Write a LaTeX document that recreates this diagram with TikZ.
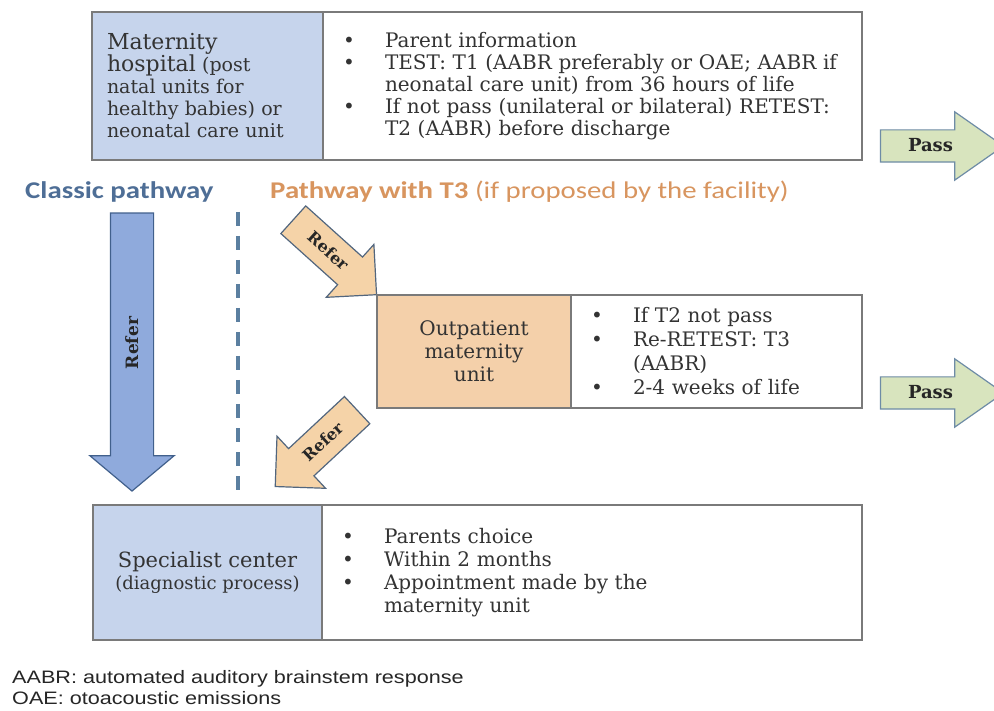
\documentclass[tikz,border=0pt]{standalone}
\usepackage{fontspec}
\setmainfont{DejaVu Serif}
\newfontfamily\headfont{Carlito}
\newfontfamily\notefont{Liberation Sans}
\usetikzlibrary{positioning,shapes.arrows}

\definecolor{sideblue}{HTML}{C6D4EC}
\definecolor{unitorange}{HTML}{F4D0AA}
\definecolor{boxgray}{HTML}{7A7A7A}
\definecolor{txtgray}{HTML}{333333}
\definecolor{passgreen}{HTML}{D8E4BE}
\definecolor{passline}{HTML}{6E8CA6}
\definecolor{referblue}{HTML}{8FAADC}
\definecolor{referblueline}{HTML}{41608C}
\definecolor{referorange}{HTML}{F5D3A8}
\definecolor{referline}{HTML}{52667E}
\definecolor{headblue}{HTML}{4E6E96}
\definecolor{headorange}{HTML}{D8955F}
\definecolor{dashblue}{HTML}{5B7FA0}

\newcommand\bigtxt{\fontsize{22}{22}\selectfont}
\newcommand\smalltxt{\fontsize{19}{22}\selectfont}
\newcommand\bl{\makebox[42pt][l]{\textbullet}}
\newcommand\nb{\hspace*{42pt}}

\tikzset{
  sidebox/.style={draw=boxgray, line width=1.2pt, fill=sideblue, text=txtgray,
    inner xsep=15pt, inner ysep=0pt, outer sep=0pt},
  unitbox/.style={sidebox, fill=unitorange},
  infobox/.style={draw=boxgray, line width=1.2pt, fill=white, text=txtgray,
    inner xsep=20pt, inner ysep=0pt, outer sep=0pt, align=left,
    font=\fontsize{20}{22}\selectfont},
  passarrow/.style={single arrow, draw=passline, line width=1.2pt, fill=passgreen,
    font=\fontsize{18}{18}\selectfont\bfseries, text=black!85,
    text height=12pt, text depth=0pt, inner ysep=9.5pt,
    single arrow head extend=18pt, single arrow tip angle=70, minimum height=123pt},
  referarrow/.style={single arrow, draw=referline, line width=1.2pt, fill=referorange,
    font=\fontsize{16}{16}\selectfont\bfseries, text=black!85,
    text height=11pt, text depth=0pt, inner ysep=12.5pt,
    single arrow head extend=17pt, single arrow tip angle=90, minimum height=112pt},
  bigarrow/.style={single arrow, draw=referblueline, line width=1.2pt, fill=referblue,
    font=\fontsize{17}{17}\selectfont\bfseries, text=black!85,
    text height=12pt, text depth=0pt, inner ysep=15pt,
    single arrow head extend=20.5pt, single arrow tip angle=100, minimum height=278pt},
  heading/.style={anchor=west, xscale=1.2, inner sep=0pt,
    font=\headfont\fontsize{24}{26}\selectfont}
}

\begin{document}
\begin{tikzpicture}[x=1pt,y=-1pt]
\useasboundingbox[fill=white] (0,0) rectangle (994,711);

% maternity hospital
\node[sidebox, minimum width=231pt, minimum height=148pt, text width=201pt, align=left,
  font=\smalltxt] (mathosp) at (207.5,86)
  {\bigtxt Maternity\\ hospital \smalltxt(post\\ natal units for\\ healthy babies) or\\ neonatal care unit};
\node[infobox, right=0pt of mathosp, minimum width=539pt, minimum height=148pt, text width=499pt]
  (mathospinfo)
  {\bl Parent information\\
   \bl TEST: T1 (AABR preferably or OAE; AABR if\\
   \nb neonatal care unit) from 36 hours of life\\
   \bl If not pass (unilateral or bilateral) RETEST:\\
   \nb T2 (AABR) before discharge};
\node[passarrow] (pass1) at (930.5,146) {Pass};

% pathways
\node[heading, text=headblue] (classic) at (25,192) {\bfseries Classic pathway};
\node[heading, text=headorange] (withT3) at (270,192) {\bfseries Pathway with T3 \mdseries(if proposed by the facility)};

\node[bigarrow, rotate=90, shape border rotate=180] (classicref) at (132,343) {Refer};
\coordinate (divtop) at (238,212);
\coordinate (divbot) at (238,490);
\draw[dashblue, line width=4pt, dash pattern=on 14pt off 10pt] (divtop) -- (divbot);

% outpatient unit
\node[referarrow, rotate=-42] (refer1) at (328,251) {Refer};
\node[unitbox, minimum width=194pt, minimum height=113pt, align=center,
  font=\fontsize{20}{23}\selectfont] (outpat) at (474,351.5)
  {Outpatient\\ maternity\\ unit};
\node[infobox, right=0pt of outpat, minimum width=291pt, minimum height=113pt, text width=251pt,
  font=\fontsize{20}{24}\selectfont] (outpatinfo)
  {\bl If T2 not pass\\
   \bl Re-RETEST: T3\\
   \nb (AABR)\\
   \bl 2-4 weeks of life};
\node[passarrow] (pass2) at (930.5,393) {Pass};
\node[referarrow, rotate=43, shape border rotate=180] (refer2) at (323,442) {Refer};

% specialist center
\node[sidebox, minimum width=229pt, minimum height=135pt, align=center,
  font=\smalltxt] (special) at (207.5,572.5)
  {\fontsize{21}{22}\selectfont Specialist center\\ \fontsize{18}{22}\selectfont(diagnostic process)};
\node[infobox, right=0pt of special, minimum width=540pt, minimum height=135pt, text width=500pt,
  font=\fontsize{20}{23}\selectfont] (specialinfo)
  {\bl Parents choice\\
   \bl Within 2 months\\
   \bl Appointment made by the\\
   \nb maternity unit};

% abbreviations
\node[anchor=west, xscale=1.2, inner sep=0pt, align=left, text=black!85,
  font=\notefont\fontsize{18}{21}\selectfont] (abbrev) at (12,688)
  {AABR: automated auditory brainstem response\\ OAE: otoacoustic emissions};
\end{tikzpicture}
\end{document}
